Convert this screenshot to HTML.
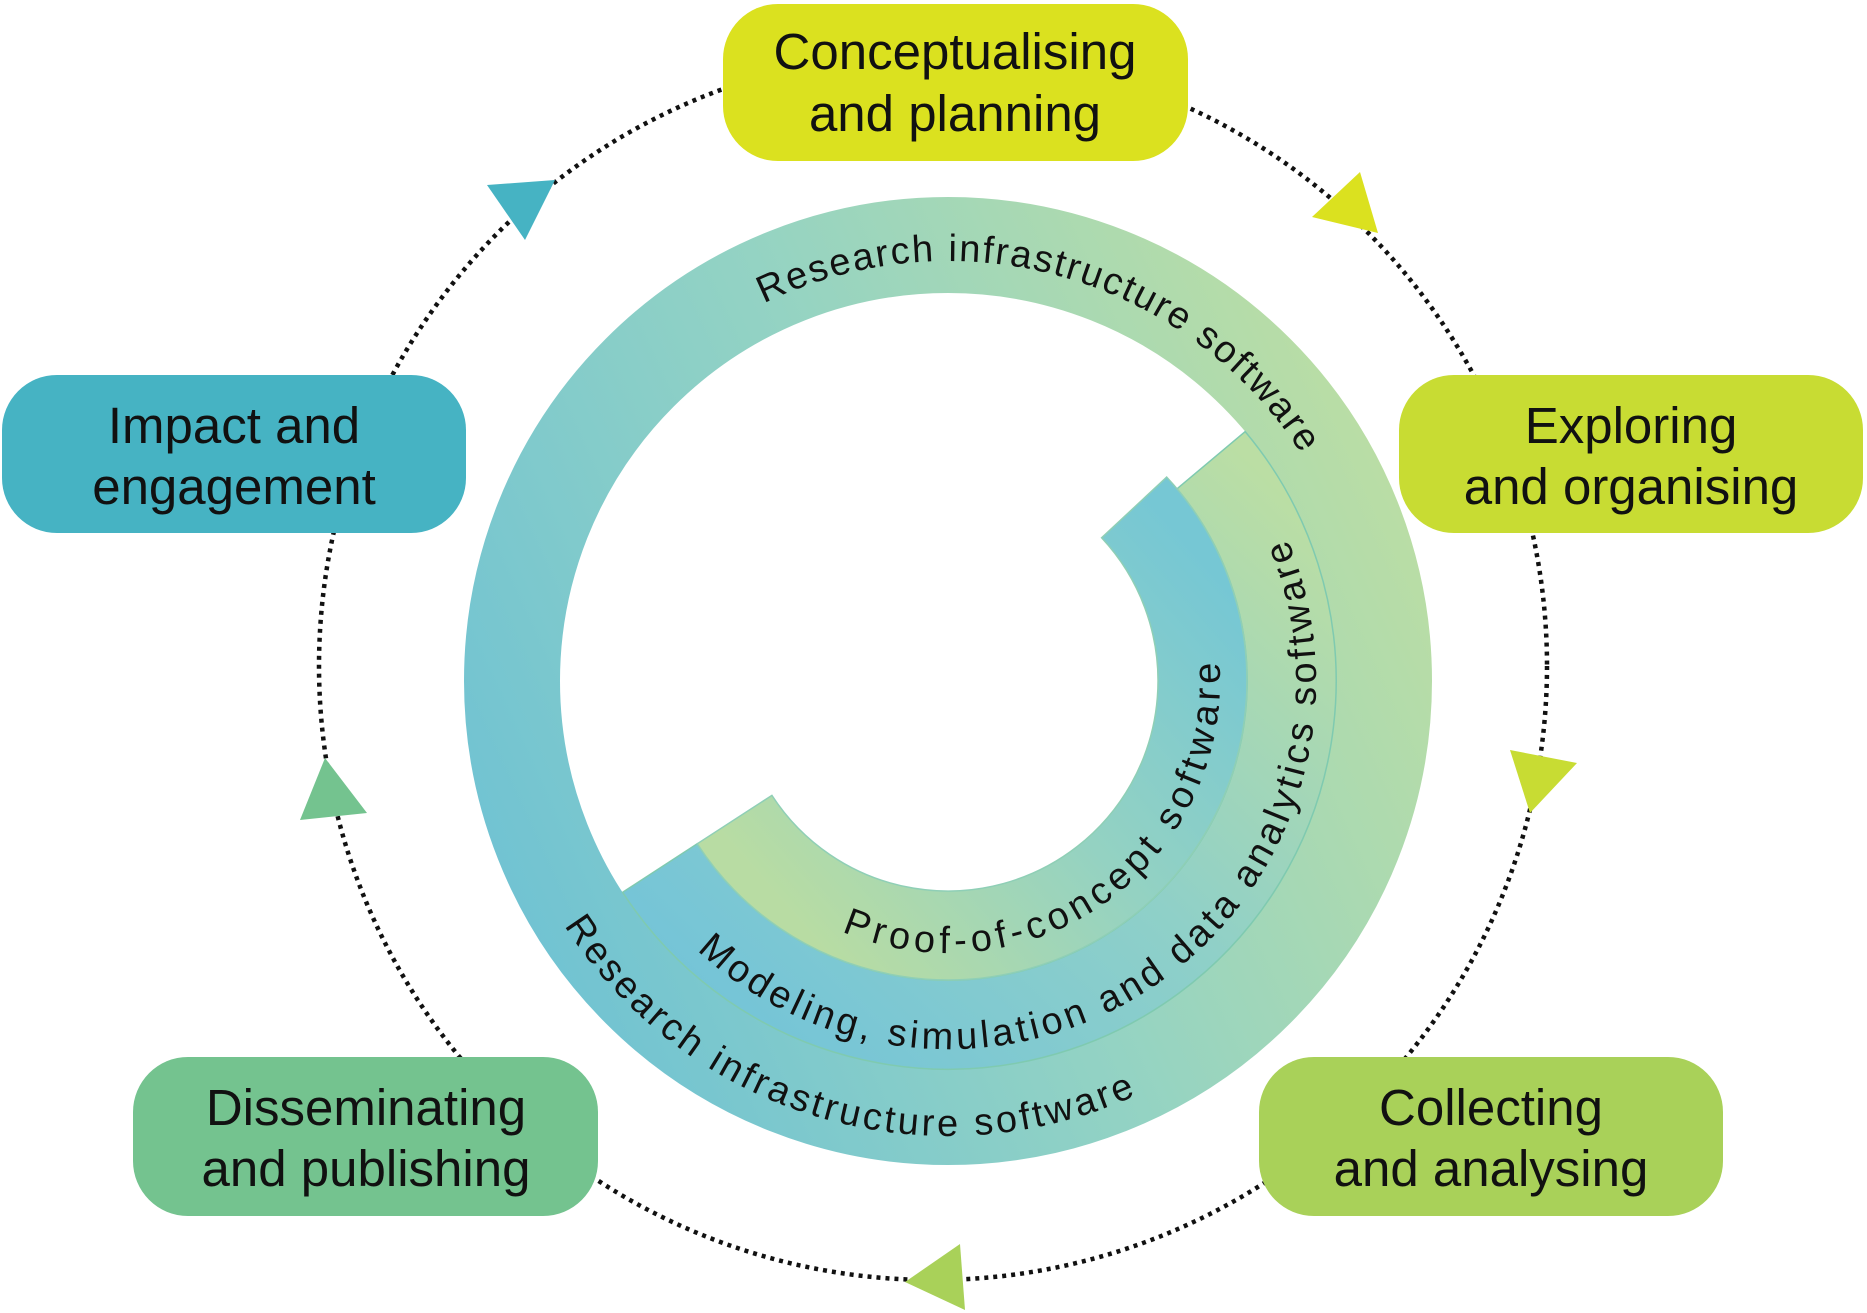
<!DOCTYPE html>
<html><head><meta charset="utf-8"><style>
html,body{margin:0;padding:0;background:#fff;}
svg{display:block;}
.bt{font-family:"Liberation Sans",sans-serif;font-size:51px;fill:#111;text-anchor:middle;}
.rt{font-family:"Liberation Sans",sans-serif;font-size:38px;fill:#111;}
</style></head><body>
<svg width="1867" height="1313" viewBox="0 0 1867 1313" xmlns="http://www.w3.org/2000/svg">
<defs>
<linearGradient id="gO" gradientUnits="userSpaceOnUse" x1="480" y1="900" x2="1420" y2="470">
<stop offset="0" stop-color="#6fc2d3"/><stop offset="0.5" stop-color="#94d3c3"/><stop offset="1" stop-color="#bcdea3"/></linearGradient>
<linearGradient id="gM" gradientUnits="userSpaceOnUse" x1="720" y1="1020" x2="1250" y2="460">
<stop offset="0" stop-color="#74c4d8"/><stop offset="0.5" stop-color="#8fd0c8"/><stop offset="1" stop-color="#bbdea4"/></linearGradient>
<linearGradient id="gI" gradientUnits="userSpaceOnUse" x1="760" y1="880" x2="1170" y2="520">
<stop offset="0" stop-color="#b8dca3"/><stop offset="0.5" stop-color="#94d2c2"/><stop offset="1" stop-color="#76c7d4"/></linearGradient>
<path id="pTop" d="M763.9,303.5 A420,420 0 0 1 1318.8,483.8"/>
<path id="pBot" d="M564.3,925.5 A455,455 0 0 0 1175.5,1075"/>
<path id="pMid" d="M697.0,950.2 A368,368 0 0 0 1266.7,497"/>
<path id="pIn" d="M841.7,931.4 A272,272 0 0 0 1215.9,633.8"/>
</defs>

<circle cx="933" cy="666" r="614" fill="none" stroke="#111" stroke-width="4.5" stroke-dasharray="4 5"/>

<circle cx="948" cy="681" r="436" fill="none" stroke="url(#gO)" stroke-width="96"/>
<path d="M1245.2,431.6 A388,388 0 1 1 622.6,892.3 L697.2,843.8 A299,299 0 1 0 1177.0,488.8 Z" fill="url(#gM)" stroke="#7fcab0" stroke-width="1.5"/>
<path d="M1166.7,477.1 A299,299 0 1 1 697.2,843.8 L771.9,795.4 A210,210 0 1 0 1101.6,537.8 Z" fill="url(#gI)" stroke="#8fcfb6" stroke-width="1.5"/>

<text class="rt"><textPath href="#pTop" textLength="610" lengthAdjust="spacing">Research infrastructure software</textPath></text>
<text class="rt"><textPath href="#pBot" textLength="650" lengthAdjust="spacing">Research infrastructure software</textPath></text>
<text class="rt"><textPath href="#pMid" textLength="1000" lengthAdjust="spacing">Modeling, simulation and data analytics software</textPath></text>
<text class="rt"><textPath href="#pIn" textLength="555" lengthAdjust="spacing">Proof-of-concept software</textPath></text>

<rect x="723" y="4" width="465" height="157" rx="55" fill="#dbe11f"/>
<text class="bt" x="955" y="69">Conceptualising</text><text class="bt" x="955" y="131">and planning</text>
<rect x="1399" y="375" width="464" height="158" rx="55" fill="#c8dc33"/>
<text class="bt" x="1631" y="443">Exploring</text><text class="bt" x="1631" y="504">and organising</text>
<rect x="1259" y="1057" width="464" height="159" rx="55" fill="#a9d159"/>
<text class="bt" x="1491" y="1125">Collecting</text><text class="bt" x="1491" y="1186">and analysing</text>
<rect x="133" y="1057" width="465" height="159" rx="55" fill="#74c38f"/>
<text class="bt" x="366" y="1125">Disseminating</text><text class="bt" x="366" y="1186">and publishing</text>
<rect x="2" y="375" width="464" height="158" rx="55" fill="#46b3c3"/>
<text class="bt" x="234" y="443">Impact and</text><text class="bt" x="234" y="504">engagement</text>

<polygon points="487,185 555,180 525,240" fill="#46b3c3"/>
<polygon points="1360,172 1312,217 1378,233" fill="#dbe11f"/>
<polygon points="1510,750 1577,763 1530,813" fill="#c8dc33"/>
<polygon points="905,1282 960,1244 965,1310" fill="#a9d159"/>
<polygon points="325,758 300,820 367,813" fill="#74c38f"/>
</svg>
</body></html>
